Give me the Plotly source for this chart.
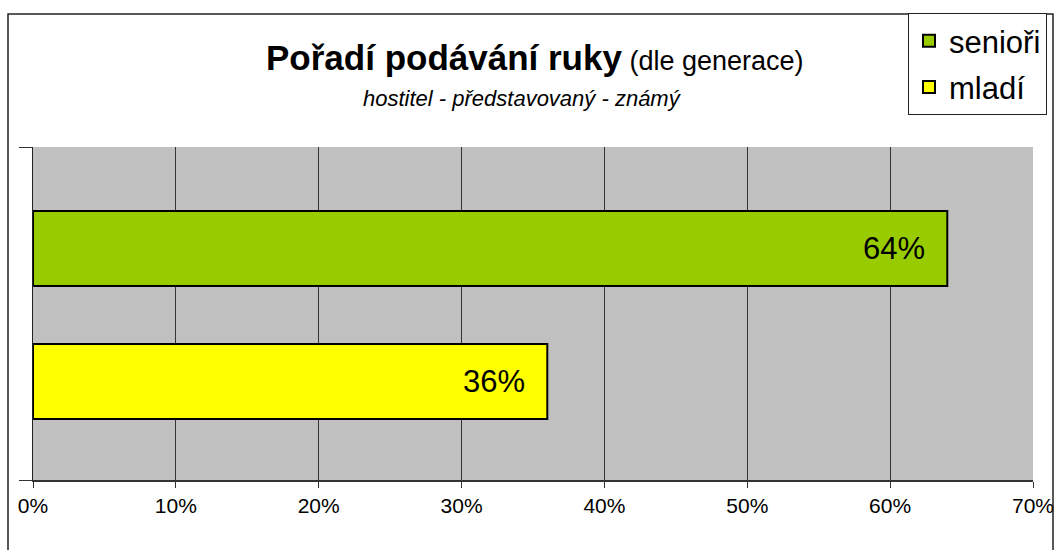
import plotly.graph_objects as go

categories = ["senioři", "mladí"]
values = [64, 36]
colors = ["#99CC00", "#FFFF00"]
x_ticks = [0, 10, 20, 30, 40, 50, 60, 70]
x_tick_labels = ["0%", "10%", "20%", "30%", "40%", "50%", "60%", "70%"]
positions = [1, 0]  # vertical slot of each category (senioři on top)

# the captured page is 1066 px wide and shown at 1058 px
K = 1066 / 1058
W, H = 1066, 550
L, R, T, B = 33 * K, 1033 * K, 147, 480
pw, ph = R - L, B - T

def px_x(p):
    return (p * K - L) / pw

def px_y(p):
    return (B - p) / ph

# vertical axis range chosen so category slots sit where the reference draws them
slot_px = 133.0
y_top = 1 + (248.5 - T) / slot_px
y_bot = 0 - (B - 381.5) / slot_px

fig = go.Figure()
for cat, val, col, pos in zip(categories, values, colors, positions):
    fig.add_trace(go.Bar(
        y=[pos], x=[val], orientation="h", name=cat,
        marker=dict(color=col, line=dict(color="black", width=2)),
        width=75 / slot_px, legendgroup=cat, showlegend=True,
    ))
    fig.add_annotation(
        x=val, y=pos, xref="x", yref="y", text=f"{val}%", showarrow=False,
        xanchor="right", xshift=-20, font=dict(size=31, color="black"),
    )

font_family = "Liberation Sans, Arial, sans-serif"

fig.add_annotation(
    x=px_x(535), y=px_y(57), xref="paper", yref="paper", showarrow=False,
    text="<b>Pořadí podávání ruky</b><span style='font-size:27px'> (dle generace)</span>",
    font=dict(size=35, color="black"), xanchor="center", yanchor="middle",
)
fig.add_annotation(
    x=px_x(522), y=px_y(99), xref="paper", yref="paper", showarrow=False,
    text="<i>hostitel - představovaný - známý</i>",
    font=dict(size=22, color="black"), xanchor="center", yanchor="middle",
)

# outer chart border
fig.add_shape(type="rect", xref="paper", yref="paper",
              x0=px_x(8), x1=px_x(1053), y0=px_y(14), y1=px_y(570),
              line=dict(color="#222", width=1.5), layer="below")

fig.update_layout(
    width=W, height=H,
    margin=dict(l=L, r=W - R, t=T, b=H - B, pad=0),
    paper_bgcolor="white", plot_bgcolor="#C0C0C0",
    font=dict(family=font_family, color="black"),
    barmode="overlay",
    showlegend=True,
    legend=dict(
        x=px_x(908), y=px_y(13), xanchor="left", yanchor="top",
        bgcolor="white", bordercolor="#222", borderwidth=1,
        font=dict(size=31), traceorder="grouped", tracegroupgap=3,
        itemwidth=30,
    ),
    xaxis=dict(
        range=[0, 70], tickvals=x_ticks, ticktext=x_tick_labels,
        showgrid=True, gridcolor="#333", gridwidth=1,
        ticks="outside", ticklen=6, tickcolor="#333",
        showline=True, linecolor="#333", linewidth=1.5,
        tickfont=dict(size=21), zeroline=False, fixedrange=True,
    ),
    yaxis=dict(
        range=[y_bot, y_top], tickvals=[y_bot, y_top], ticktext=["", ""],
        ticks="outside", ticklen=13, tickcolor="#333",
        showgrid=False, zeroline=False, showline=True, linecolor="#222",
        fixedrange=True,
    ),
)

fig.write_html(
    "out.html",
    config={"displayModeBar": False, "responsive": False},
    post_script="document.body.style.margin='0';document.body.style.overflow='hidden';",
)
